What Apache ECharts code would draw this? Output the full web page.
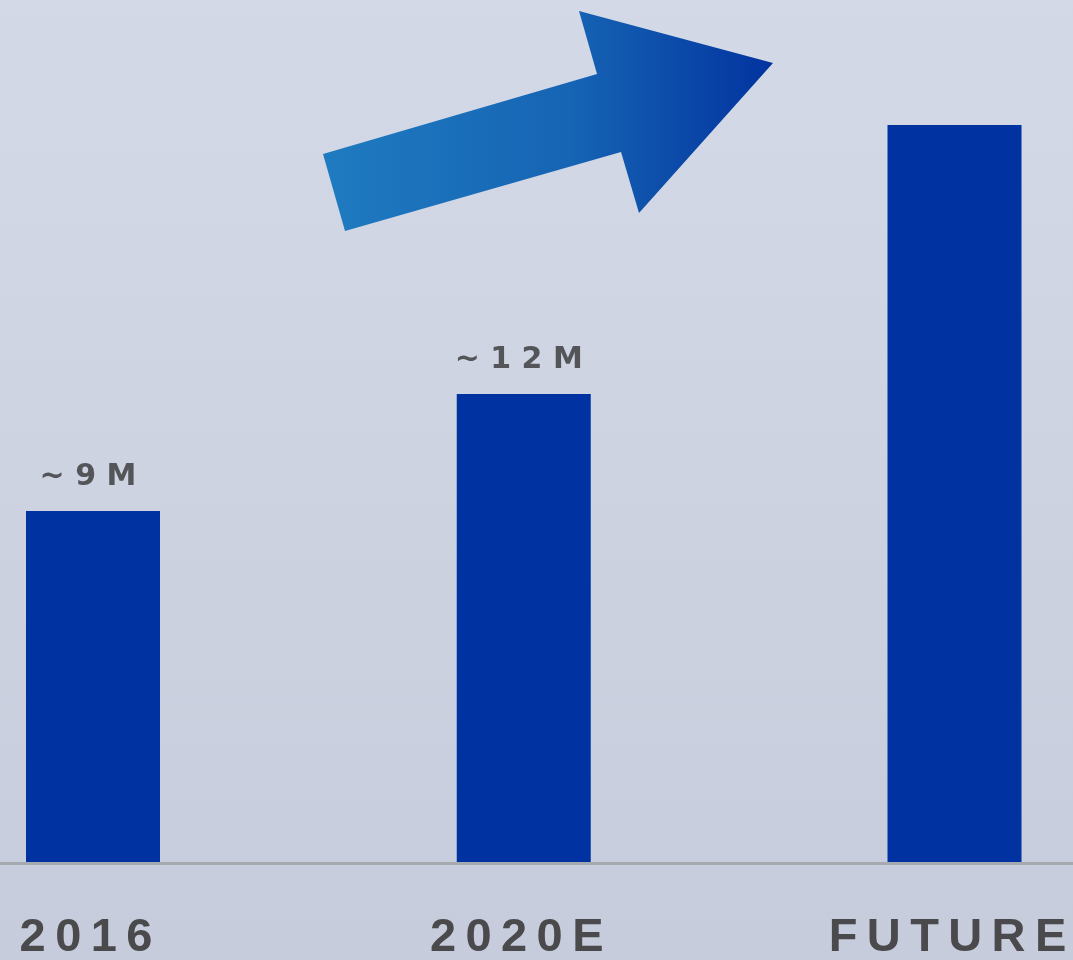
<!DOCTYPE html>
<html>
<head>
<meta charset="utf-8">
<title>Growth outlook</title>
<script src="https://cdn.jsdelivr.net/npm/echarts@6/dist/echarts.min.js"></script>
<style>
  html, body { margin: 0; padding: 0; }
  #chart { width: 1073px; height: 960px; }
</style>
</head>
<body>
<div id="chart"></div>
<script>
// Categories and values (millions)
const categories = ['2016', '2020E', 'FUTURE'];
const values = [9, 12, 18.9];
// Value labels shown above bars (null = no label)
const valueLabels = ['~9M', '~12M', null];

const THIN = '\u2009';
const spaced = (s, sep) => s.split('').join(sep);

const chart = echarts.init(document.getElementById('chart'), null, { renderer: 'canvas' });

chart.setOption({
  backgroundColor: {
    type: 'linear', x: 0, y: 0, x2: 0, y2: 1,
    colorStops: [
      { offset: 0, color: '#d3d9e6' },
      { offset: 0.5, color: '#cdd3e1' },
      { offset: 1, color: '#c6ccdb' }
    ]
  },
  animation: false,
  // Ticks sit on the category points, so bars are centred on them
  grid: {
    left: 93, right: 118.5, top: 4, bottom: 98,
    containLabel: false,
    outerBoundsMode: 'none'
  },
  xAxis: {
    type: 'category',
    data: categories,
    boundaryGap: false,
    axisTick: { show: false },
    axisLine: { show: false },
    axisLabel: {
      interval: 0,
      margin: 53,
      padding: [0, 14, 0, 0],
      color: '#4a4a4c',
      fontFamily: 'Liberation Sans',
      fontWeight: 'bold',
      fontSize: 47,
      formatter: v => spaced(v, THIN)
    }
  },
  yAxis: {
    type: 'value',
    min: 0,
    max: 22,
    show: false,
    splitLine: { show: false }
  },
  series: [{
    type: 'bar',
    data: values,
    barWidth: 134,
    itemStyle: { color: '#0033a1' },
    label: {
      show: true,
      position: 'top',
      distance: 19,
      padding: [0, 10, 0, 0],
      color: '#545558',
      fontFamily: 'DejaVu Sans',
      fontWeight: 'bold',
      fontSize: 30,
      formatter: p => {
        const t = valueLabels[p.dataIndex];
        return t ? spaced(t, ' ') : '';
      }
    }
  }]
});

// Full-width baseline at the zero value and the trend arrow
const baseY = chart.convertToPixel({ yAxisIndex: 0 }, 0);
chart.setOption({
  graphic: [{
    type: 'line',
    shape: { x1: 0, y1: baseY + 1.5, x2: 1073, y2: baseY + 1.5 },
    style: { stroke: '#a7a9b0', lineWidth: 3 },
    z: 5
  }, {
    type: 'polygon',
    shape: {
      points: [
        [345, 231], [323, 154], [597, 74], [579, 11],
        [773, 63], [639, 213], [621, 152]
      ]
    },
    style: {
      fill: {
        type: 'linear', x: 0, y: 0, x2: 1, y2: 0,
        colorStops: [
          { offset: 0, color: '#1f7bc0' },
          { offset: 0.55, color: '#1664b4' },
          { offset: 1, color: '#02339f' }
        ]
      }
    },
    z: 10
  }]
});
</script>
</body>
</html>
